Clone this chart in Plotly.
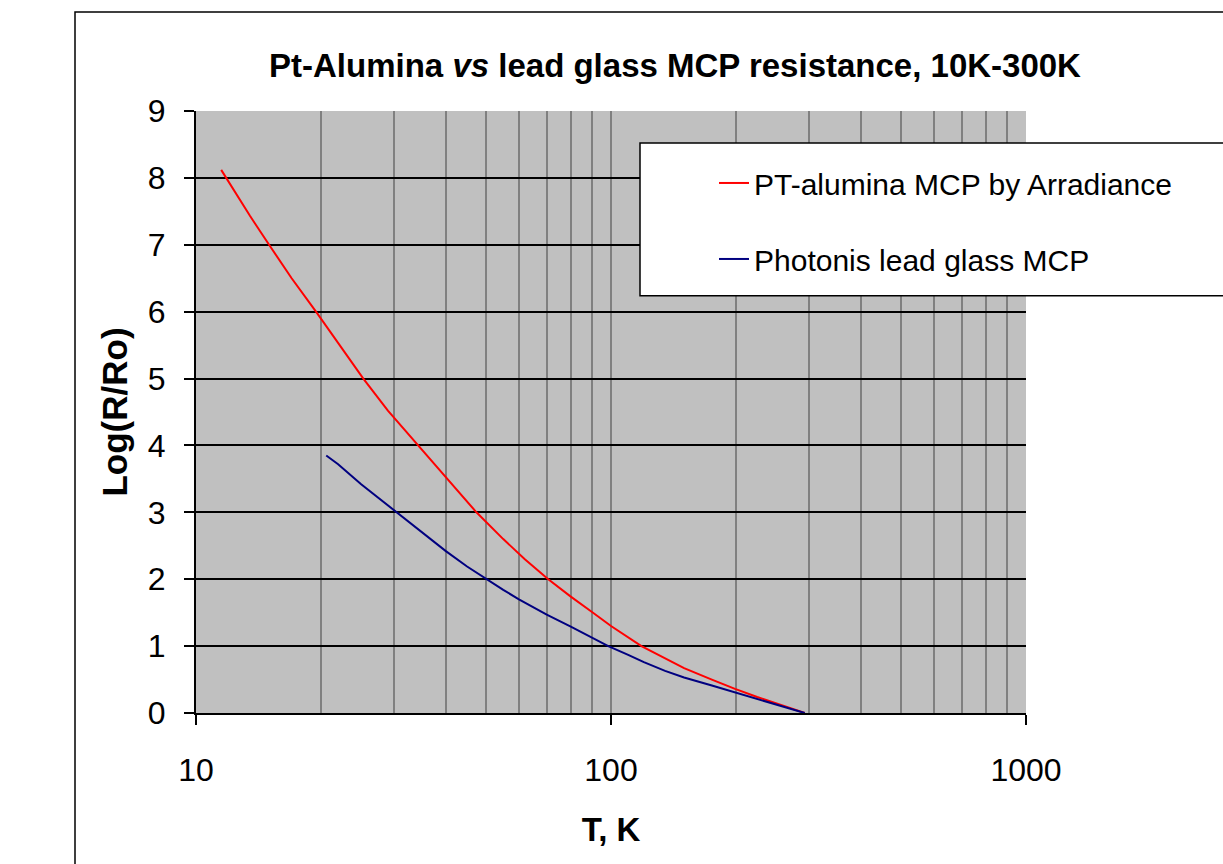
import plotly.graph_objects as go

# Data (T in K, Log(R/Ro))
red_name = "PT-alumina MCP by Arradiance"
red_T = [11.5, 12.5, 13.5, 15.0, 17.0, 19.46, 22.0, 25.3, 29.0, 34.3, 40.0, 47.4, 55.0, 62.0, 70.6,
         80.0, 90.0, 100.0, 118.4, 135.0, 150.0, 175.0, 199.0, 225.0, 250.0, 275.0, 293.0]
red_logR = [8.12, 7.76, 7.43, 7.0, 6.5, 6.0, 5.53, 5.0, 4.52, 4.0, 3.52, 3.0, 2.6, 2.3, 2.0,
            1.74, 1.51, 1.3, 1.0, 0.81, 0.67, 0.5, 0.36, 0.24, 0.14, 0.06, 0.0]

blue_name = "Photonis lead glass MCP"
blue_T = [20.6, 22.0, 25.0, 28.0, 30.4, 35.0, 40.0, 45.0, 50.1, 55.0, 60.0, 70.0, 80.0, 90.0,
          98.5, 110.0, 120.0, 135.0, 150.0, 175.0, 199.0, 225.0, 250.0, 275.0, 293.0]
blue_logR = [3.85, 3.72, 3.42, 3.18, 3.0, 2.7, 2.42, 2.19, 2.0, 1.84, 1.7, 1.47, 1.29, 1.13,
             1.0, 0.87, 0.76, 0.63, 0.53, 0.41, 0.31, 0.21, 0.13, 0.055, 0.0]

y_ticks = [0, 1, 2, 3, 4, 5, 6, 7, 8, 9]
x_ticks = [10, 100, 1000]
x_minor_grid = [20, 30, 40, 50, 60, 70, 80, 90, 200, 300, 400, 500, 600, 700, 800, 900]

W, H = 1223, 864
L, R, T, B = 196, 1026, 111, 713.5

def px(xp):
    return (xp - L) / (R - L)

def py(yp):
    return (B - yp) / (B - T)

font_family = "Liberation Sans, Arial, sans-serif"

fig = go.Figure()
fig.add_trace(go.Scatter(x=red_T, y=red_logR, mode="lines", name=red_name,
                         line=dict(color="#FF0000", width=2), legendgroup="a"))
fig.add_trace(go.Scatter(x=blue_T, y=blue_logR, mode="lines", name=blue_name,
                         line=dict(color="#000080", width=2), legendgroup="b"))

fig.update_layout(
    width=W, height=H,
    margin=dict(l=L, r=W - R, t=T, b=H - B, autoexpand=False),
    paper_bgcolor="white",
    plot_bgcolor="#C0C0C0",
    font=dict(family=font_family, color="black"),
    title=dict(text="<b>Pt-Alumina <i>vs</i> lead glass MCP resistance, 10K-300K</b>",
               x=675 / W, xanchor="center", y=1 - 65 / H, yanchor="middle",
               yref="container", xref="container", font=dict(size=33, color="black")),
    xaxis=dict(type="log", range=[1, 3], tickvals=x_ticks, ticktext=[str(v) for v in x_ticks],
               showgrid=True, gridcolor="#808080", gridwidth=2,
               minor=dict(tickvals=x_minor_grid, showgrid=True, gridcolor="#808080",
                          gridwidth=2, ticks=""),
               showline=True, linecolor="black", linewidth=2,
               ticks="outside", ticklen=10, tickwidth=2, tickcolor="black",
               ticklabelstandoff=18,
               tickfont=dict(size=32, color="black"),
               title=dict(text="<b>T, K</b>", font=dict(size=33, color="black"), standoff=30),
               zeroline=False, automargin=False),
    yaxis=dict(range=[0, 9], tickvals=y_ticks,
               showgrid=True, gridcolor="black", gridwidth=2,
               showline=True, linecolor="black", linewidth=2,
               ticks="outside", ticklen=10, tickwidth=2, tickcolor="black",
               ticklabelstandoff=12,
               tickfont=dict(size=32, color="black"),
               title=dict(text="<b>Log(R/Ro)</b>", font=dict(size=35, color="black"), standoff=10),
               zeroline=False, automargin=False),
    legend=dict(x=px(714), xanchor="left", y=py(157), yanchor="top",
                bgcolor="rgba(0,0,0,0)", borderwidth=0,
                font=dict(size=30, color="black"),
                traceorder="grouped", tracegroupgap=34),
    shapes=[
        # outer chart border
        dict(type="rect", xref="paper", yref="paper",
             x0=px(75), x1=px(1260), y0=py(900), y1=py(12),
             line=dict(color="black", width=1.5), fillcolor="rgba(0,0,0,0)", layer="above"),
        # legend box
        dict(type="rect", xref="paper", yref="paper",
             x0=px(640), x1=px(1260), y0=py(296), y1=py(143),
             line=dict(color="black", width=1.5), fillcolor="white", layer="above"),
    ],
)

fig.write_html("out.html")
